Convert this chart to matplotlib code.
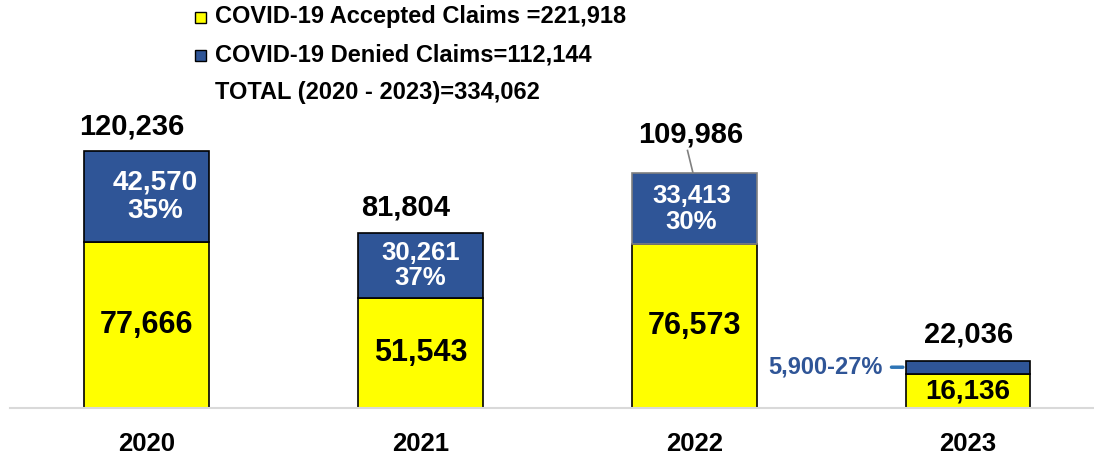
import matplotlib
matplotlib.use('Agg')
import matplotlib.pyplot as plt
from matplotlib.patches import Rectangle

plt.rcParams['font.family'] = ['Liberation Sans', 'DejaVu Sans']
plt.rcParams['font.weight'] = 'bold'

years = ['2020', '2021', '2022', '2023']
accepted = [77666, 51543, 76573, 16136]
denied = [42570, 30261, 33413, 5900]
denied_pct = ['35%', '37%', '30%', '27%']
legend_labels = ['COVID-19 Accepted Claims =221,918',
                 'COVID-19 Denied Claims=112,144',
                 'TOTAL (2020 - 2023)=334,062']

yellow = '#FFFF00'
blue = '#2F5597'

fig = plt.figure(figsize=(10.94, 4.58), dpi=100)
ax = fig.add_axes([10 / 1094, 50 / 458, 1084 / 1094, 408 / 458])

x = list(range(len(years)))
totals = [a + d for a, d in zip(accepted, denied)]
w = 0.456

ax.bar(x, accepted, width=w, color=yellow, edgecolor='black', linewidth=1.2, zorder=2)
edges = ['black', 'black', '#808080', 'black']
ax.bar(x, denied, width=w, bottom=accepted, color=blue, edgecolor=edges, linewidth=1.2, zorder=2)

ax.set_xlim(-0.5, 3.46)
ax.set_ylim(0, 190900)
for s in ['top', 'right', 'left']:
    ax.spines[s].set_visible(False)
ax.spines['bottom'].set_color('#D9D9D9')
ax.spines['bottom'].set_linewidth(1.5)
ax.set_yticks([])
ax.set_xticks(x)
ax.set_xticklabels(years, fontsize=18.5, fontweight='bold')
ax.tick_params(axis='x', length=0, pad=17)

# accepted labels inside yellow
acc_fs = [22, 22, 22, 20]
for i in x:
    yy = accepted[i] * (0.5 if i < 3 else 0.47)
    ax.text(i, yy, f'{accepted[i]:,}', ha='center', va='center',
            fontsize=acc_fs[i], fontweight='bold', zorder=3)

# denied labels inside blue
den_fs = [20, 18.5, 18.5]
den_dx = [0.031, 0, -0.01]
for i in range(3):
    mid = accepted[i] + denied[i] / 2
    ax.text(i + den_dx[i], mid, f'{denied[i]:,}\n{denied_pct[i]}', ha='center', va='center',
            fontsize=den_fs[i], fontweight='bold', color='white', linespacing=1.1, zorder=3)

# 2023 denied callout
mid23 = accepted[3] + denied[3] / 2
ax.annotate('', xy=(3 - w / 2, mid23), xytext=(3 - w / 2 - 0.062, mid23),
            arrowprops=dict(arrowstyle='-', color='#2E75B6', lw=2.5))
ax.text(3 - w / 2 - 0.085, mid23, f'{denied[3]:,}-{denied_pct[3]}', ha='right', va='center',
        fontsize=17, fontweight='bold', color=blue)

# totals above
tot_dx = [-0.055, -0.055, -0.015, 0]
tot_off = [11500, 12000, 18000, 12500]
for i in x:
    ax.text(i + tot_dx[i], totals[i] + tot_off[i], f'{totals[i]:,}', ha='center', va='center',
            fontsize=21, fontweight='bold', zorder=3)
ax.plot([2 - 0.025, 2 - 0.005], [totals[2] + 10500, totals[2]], color='#808080', lw=1.2)

# legend
fx = 200 / 1094
rows = [1 - 17 / 458, 1 - 55 / 458, 1 - 92 / 458]
sq = 11
for j, (lab, c) in enumerate(zip(legend_labels, [yellow, blue, None])):
    if c is not None:
        fig.patches.append(Rectangle((fx - sq / 2 / 1094, rows[j] - sq / 2 / 458), sq / 1094, sq / 458,
                                     transform=fig.transFigure, facecolor=c, edgecolor='black',
                                     linewidth=1))
    fig.text(215 / 1094, rows[j], lab, ha='left', va='center', fontsize=17, fontweight='bold')

fig.savefig('out.png', dpi=100)
